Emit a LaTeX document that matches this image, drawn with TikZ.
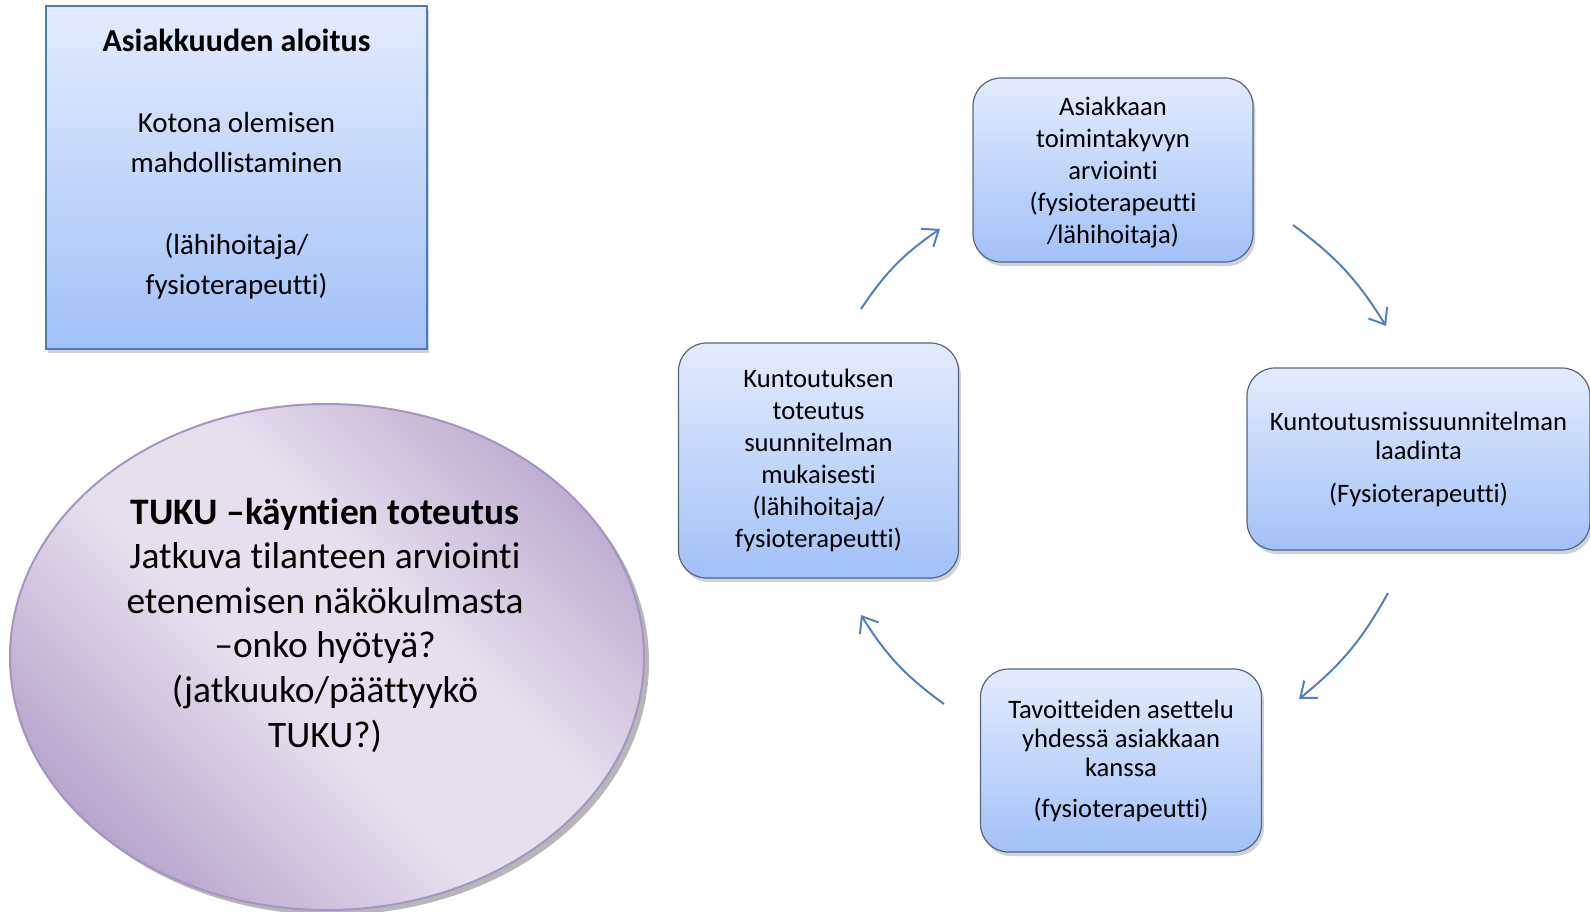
\documentclass[tikz,border=0pt]{standalone}
\usepackage{fontspec}
\setmainfont[Ligatures={NoCommon,NoRequired,NoContextual},RawFeature={-liga;-clig;-calt;-dlig;-rlig}]{Carlito}
\usetikzlibrary{arrows.meta,shapes.geometric,shadows,shadings}
\definecolor{boxtop}{HTML}{E3ECFD}
\definecolor{boxbot}{HTML}{A2C1F8}
\definecolor{boxedge}{HTML}{4A7EBB}
\definecolor{rbedge}{HTML}{56667E}
\definecolor{arrowblue}{HTML}{4F81BD}
\definecolor{plight}{HTML}{E6E0EE}
\definecolor{pdark}{HTML}{B8A5CC}
\definecolor{pedge}{HTML}{A595C2}
\pgfdeclarehorizontalshading{tukushade}{100bp}{color(0bp)=(pdark); color(25bp)=(pdark); color(45bp)=(plight); color(58bp)=(plight); color(78bp)=(pdark); color(100bp)=(pdark)}
\begin{document}
\begin{tikzpicture}[x=0.5pt,y=-0.5pt,
  sqbox/.style={draw=boxedge,line width=1.1pt,top color=boxtop,bottom color=boxbot,
    minimum width=190.5pt,minimum height=171.5pt,inner sep=0pt,
    drop shadow={shadow xshift=1.2pt,shadow yshift=-2pt,opacity=0.35}},
  rbox/.style={draw=rbedge,line width=0.6pt,rounded corners=14pt,top color=boxtop,bottom color=boxbot,
    inner sep=0pt,align=center,font=\fontsize{13.3}{16}\selectfont,
    drop shadow={shadow xshift=1.2pt,shadow yshift=-2pt,opacity=0.35}},
  tight/.style={font=\fontsize{13.3}{14.5}\selectfont},
  tukushape/.style={ellipse,draw=pedge,line width=1pt,shading=tukushade,shading angle=45,
    minimum width=317pt,minimum height=253pt,inner sep=0pt,
    drop shadow={shadow xshift=2.5pt,shadow yshift=-2.5pt,fill=black!70,opacity=0.4}},
  flow/.style={draw=arrowblue,line width=1pt,-{Straight Barb[length=7pt,width=11pt]}}]
\useasboundingbox (0,0) rectangle (1590,911);
\clip (0,0) rectangle (1590,911);
\fill[white] (0,0) rectangle (1590,911);

% start box
\node[sqbox] (start) at (236.5,177.5) {};
\node[align=center,font=\fontsize{14.5}{20.3}\selectfont] (starttext) at (236.5,164)
  {{\fontsize{16}{20.3}\selectfont\textbf{Asiakkuuden aloitus}}\\[20.3pt]Kotona olemisen\\mahdollistaminen\\[20.3pt](lähihoitaja/\\fysioterapeutti)};

% ellipse
\node[tukushape] (tuku) at (327,657) {};
\node[align=center,font=\fontsize{18.7}{22.3}\selectfont] (tukutext) at (325,625)
  {\textbf{TUKU –käyntien toteutus}\\Jatkuva tilanteen arviointi\\etenemisen näkökulmasta\\–onko hyötyä?\\(jatkuuko/päättyykö\\TUKU?)};

% cycle boxes
\node[rbox,minimum width=140pt,minimum height=92pt] (arv) at (1113,170) {};
\node[align=center,font=\fontsize{13.3}{16}\selectfont] (arvtext) at (1113,173)
  {Asiakkaan\\toimintakyvyn\\arviointi\\(fysioterapeutti\\/lähihoitaja)};
\node[rbox,tight,minimum width=171.5pt,minimum height=91pt] (laad) at (1418.5,459)
  {Kuntoutusmissuunnitelman\\laadinta\\[7pt](Fysioterapeutti)};
\node[rbox,tight,minimum width=140.5pt,minimum height=91.5pt] (tav) at (1121,760.5)
  {Tavoitteiden asettelu\\yhdessä asiakkaan\\kanssa\\[6pt](fysioterapeutti)};
\node[rbox,minimum width=140pt,minimum height=117.5pt] (tot) at (818.5,460.5)
  {Kuntoutuksen\\toteutus\\suunnitelman\\mukaisesti\\(lähihoitaja/\\fysioterapeutti)};

% arrows
\coordinate (a1s) at (861,309); \coordinate (a1e) at (940,229);
\coordinate (a2s) at (1293,225); \coordinate (a2e) at (1386,326);
\coordinate (a3s) at (1388,593); \coordinate (a3e) at (1299,699);
\coordinate (a4s) at (944,704); \coordinate (a4e) at (861,615);
\draw[flow] (a1s) to[bend left=11] (a1e);
\draw[flow] (a2s) to[bend left=11] (a2e);
\draw[flow] (a3s) to[bend left=11] (a3e);
\draw[flow] (a4s) to[bend left=11] (a4e);
\end{tikzpicture}
\end{document}
